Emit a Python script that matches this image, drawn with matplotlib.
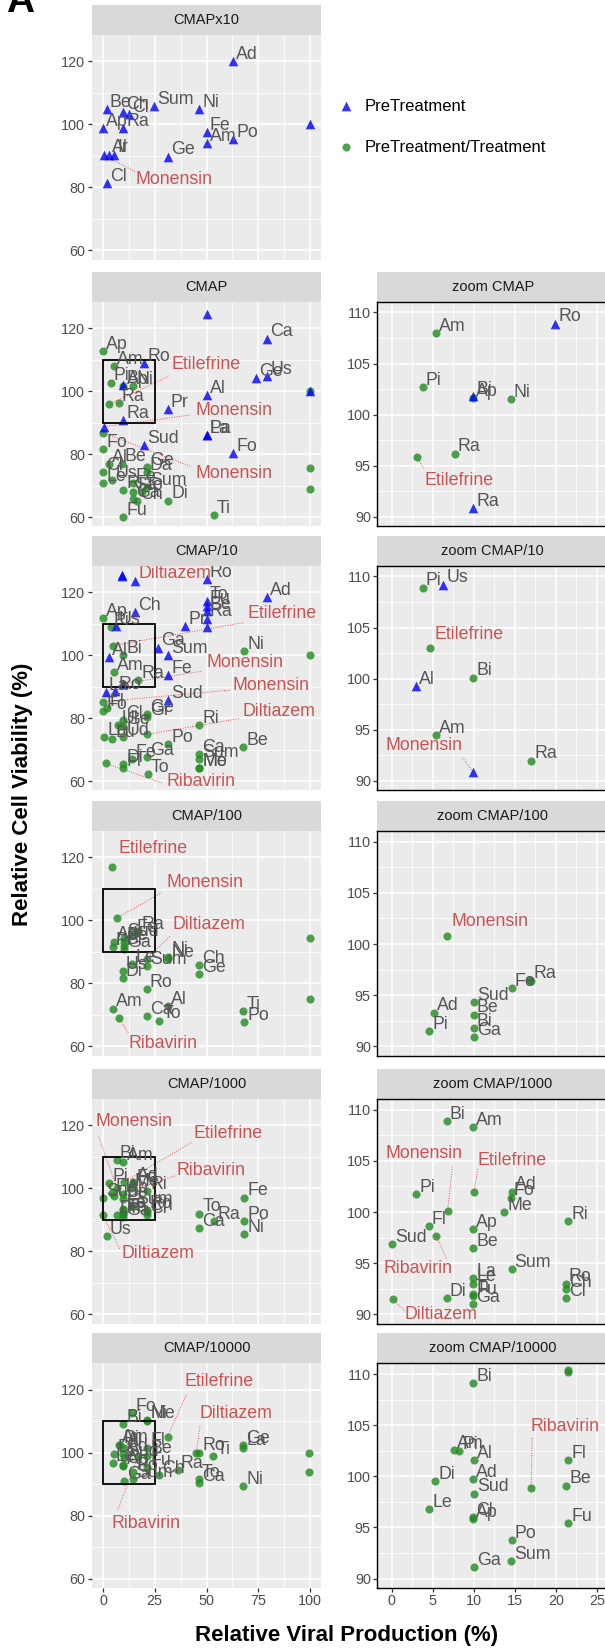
"""Viability vs viral production scatter panels, one row per CMAP dilution."""

import matplotlib
matplotlib.use("Agg")
import matplotlib.pyplot as plt
from matplotlib.patches import Rectangle

plt.rcParams["font.family"] = ["Liberation Sans", "DejaVu Sans"]

# (drug, relative viral production %, relative cell viability %)
cmapx10_pre = [
    ("Ad", 62.9, 120.0), ("Be", 1.8, 104.9), ("Ch", 9.8, 104.1), ("Cl", 12.4, 103.3),
    ("Sum", 24.8, 105.7), ("Ni", 46.5, 104.9), ("Ap", 0.0, 98.9), ("Ra", 9.8, 98.9),
    ("Fe", 50.1, 97.6), ("Am", 50.1, 94.1), ("Po", 62.9, 95.4), ("", 100.0, 100.0),
    ("Monensin", 0.5, 90.2), ("Al", 3.0, 90.4), ("Ir", 5.3, 90.4), ("Ge", 31.2, 89.8),
    ("Cl", 1.8, 81.4)]
cmapx10_trt = []

cmap_pre = [
    ("", 50.1, 124.4), ("Ca", 79.4, 116.7), ("Ro", 19.9, 108.9), ("Ge", 73.9, 104.1),
    ("Us", 79.4, 104.8), ("Bi", 9.9, 101.8), ("Al", 50.1, 98.7), ("", 100.0, 100.0),
    ("Pr", 31.3, 94.2), ("Ra", 9.9, 90.9), ("Monensin", 0.6, 88.7), ("Pa", 50.1, 86.0),
    ("La", 50.1, 86.1), ("Sud", 19.8, 82.8), ("Fo", 63.0, 80.2)]
cmap_trt = [
    ("Ap", 0.0, 112.7), ("Am", 5.4, 108.0), ("Pi", 3.8, 102.7), ("Ap", 9.9, 101.6),
    ("Ni", 14.5, 101.5), ("Etilefrine", 3.1, 95.9), ("Ra", 7.7, 96.2), ("", 100.0, 100.0),
    ("Monensin", 0.0, 86.8), ("Fo", 0.0, 81.5), ("Al", 3.0, 76.8), ("Be", 9.0, 77.0),
    ("Cl", 0.0, 74.4), ("Le", 0.0, 70.9), ("Us", 4.5, 71.7), ("Ri", 9.8, 68.6),
    ("Fe", 14.3, 70.9), ("Sa", 14.3, 68.0), ("Ga", 14.3, 65.6), ("Ch", 16.6, 65.1),
    ("Ge", 21.2, 75.8), ("Da", 21.2, 74.4), ("Sum", 21.2, 69.6), ("To", 18.7, 68.0),
    ("Di", 31.5, 65.2), ("Fu", 9.8, 59.9), ("", 100.0, 75.7), ("", 100.0, 68.9),
    ("Ti", 53.6, 60.5)]

cmap10_pre = [
    ("Diltiazem", 9.0, 125.1), ("", 9.2, 125.3), ("", 15.5, 123.5), ("Ro", 50.1, 124.1),
    ("To", 50.1, 117.2), ("Fu", 50.1, 115.7), ("Be", 50.1, 113.9), ("Ra", 50.1, 111.6),
    ("", 50.1, 109.0), ("Ad", 79.4, 118.5), ("Ch", 15.5, 113.6), ("Pr", 39.6, 109.3),
    ("Us", 6.3, 109.2), ("Ga", 26.5, 102.4), ("Sum", 31.6, 100.0), ("Al", 3.0, 99.3),
    ("Fe", 31.6, 93.7), ("Monensin", 9.9, 90.9), ("Ro", 5.8, 88.6), ("La", 1.4, 88.3),
    ("Sud", 31.6, 85.7)]
cmap10_trt = [
    ("Ap", 0.0, 111.8), ("Pi", 3.8, 108.9), ("Etilefrine", 4.7, 103.0), ("Bi", 9.9, 100.1),
    ("Am", 5.4, 94.5), ("Ra", 17.0, 92.0), ("Ni", 68.1, 101.2), ("", 100.0, 100.0),
    ("Monensin", 0.0, 85.2), ("Fl", 1.8, 83.1), ("Fo", 0.0, 82.1), ("Ge", 21.1, 81.3),
    ("Gr", 21.1, 80.4), ("Cl", 9.8, 79.4), ("Ul", 7.4, 77.8), ("Ge", 9.8, 77.5),
    ("Ri", 46.4, 77.8), ("Diltiazem", 21.1, 74.8), ("La", 0.5, 73.9), ("Lu", 4.5, 73.3),
    ("Ud", 9.8, 73.9), ("Po", 31.6, 71.7), ("Be", 67.8, 70.9), ("Ca", 46.4, 68.6),
    ("Sum", 46.4, 67.0), ("Me", 46.4, 64.0), ("Mo", 46.5, 64.1), ("Ga", 21.1, 67.7),
    ("Fe", 14.2, 66.9), ("Di", 9.8, 65.3), ("Fl", 9.8, 64.0), ("Ribavirin", 1.4, 65.6),
    ("To", 21.6, 62.2)]

cmap100_pre = []
cmap100_trt = [
    ("Etilefrine", 4.5, 117.1), ("Monensin", 6.7, 100.8), ("Fe", 14.6, 95.7),
    ("Ra", 16.9, 96.5), ("", 17.0, 96.4), ("Sud", 10.0, 94.3), ("Be", 10.0, 93.1),
    ("Bi", 10.0, 91.8), ("Ga", 10.0, 90.9), ("Ad", 5.2, 93.3), ("Pi", 4.6, 91.5),
    ("Ni", 31.6, 88.5), ("Ne", 31.6, 87.6), ("Diltiazem", 21.1, 87.7), ("Sum", 21.1, 85.5),
    ("Le", 14.2, 86.1), ("Us", 9.5, 83.8), ("Di", 9.5, 81.6), ("Ro", 21.1, 78.3),
    ("Ch", 46.4, 85.8), ("Ge", 46.4, 82.9), ("", 100.0, 94.5), ("Am", 5.0, 72.0),
    ("Ribavirin", 7.7, 69.1), ("Ca", 21.1, 69.6), ("Al", 31.6, 72.8), ("To", 27.2, 68.2),
    ("Ti", 67.8, 71.2), ("Po", 68.1, 67.8), ("", 100.0, 74.9)]

cmap1000_pre = []
cmap1000_trt = [
    ("Bi", 6.7, 108.9), ("Am", 9.9, 108.3), ("Monensin", 6.8, 100.1), ("Etilefrine", 10.0, 102.0),
    ("Pi", 3.0, 101.75), ("Ad", 14.7, 102.0), ("Fo", 14.5, 101.4), ("Me", 13.7, 100.0),
    ("Ap", 9.9, 98.3), ("Fl", 4.5, 98.6), ("Ribavirin", 5.4, 97.7), ("Sud", 0.0, 96.9),
    ("Be", 9.9, 96.5), ("Ri", 21.5, 99.1), ("Sum", 14.6, 94.4), ("La", 9.9, 93.5),
    ("Le", 9.9, 93.0), ("Ti", 9.9, 92.0), ("Fu", 9.9, 91.8), ("Ga", 9.9, 91.0),
    ("Di", 6.7, 91.6), ("Diltiazem", 0.1, 91.5), ("Ro", 21.2, 93.0), ("Ch", 21.2, 92.5),
    ("Cl", 21.2, 91.6), ("Us", 1.8, 84.9), ("Fe", 68.1, 97.1), ("Po", 68.1, 89.7),
    ("Ni", 68.1, 85.5), ("To", 46.5, 92.0), ("Ca", 46.4, 87.4), ("Ra", 53.8, 89.7)]

cmap10000_pre = []
cmap10000_trt = [
    ("Bi", 9.9, 109.1), ("Ni", 21.5, 110.2), ("Me", 21.5, 110.4), ("Fo", 14.2, 112.5),
    ("Am", 7.6, 102.6), ("Pi", 8.2, 102.5), ("Al", 10.0, 101.6), ("Ad", 9.9, 99.7),
    ("Sud", 10.0, 98.3), ("Cl", 9.9, 96.0), ("Ap", 9.9, 95.8), ("Di", 5.3, 99.5),
    ("Le", 4.6, 96.8), ("Ribavirin", 17.0, 98.9), ("Fl", 21.5, 101.6), ("Be", 21.3, 99.1),
    ("Fu", 21.5, 95.4), ("Po", 14.6, 93.8), ("Sum", 14.5, 91.7), ("Ga", 10.0, 91.1),
    ("Etilefrine", 31.2, 105.1), ("Diltiazem", 45.0, 99.8), ("Ro", 46.5, 100.0),
    ("Ti", 53.3, 99.0), ("Ge", 67.8, 102.5), ("La", 67.8, 101.6), ("Ni", 67.7, 89.5),
    ("To", 46.4, 91.6), ("Ca", 46.4, 90.4), ("Ra", 36.1, 94.5), ("Ch", 27.2, 92.9),
    ("", 99.5, 100.0), ("", 99.5, 94.0)]

HIGHLIGHT = {"Monensin", "Etilefrine", "Diltiazem", "Ribavirin"}

# red call-out text placement: series, drug, text x, text y, ha, va, segment end x, y
notes_x10 = [("pre", "Monensin", 15.5, 85.2, "left", "top", 15.5, 85.0)]
notes_cmap = [
    ("trt", "Etilefrine", 33.2, 105.6, "left", "bottom", 32.0, 104.8),
    ("pre", "Monensin", 44.9, 93.7, "left", "center", 42.0, 92.4),
    ("trt", "Monensin", 44.9, 73.9, "left", "center", 42.8, 76.0)]
notes_10 = [
    ("pre", "Diltiazem", 17.1, 125.9, "left", "center", None, None),
    ("trt", "Etilefrine", 70.0, 110.6, "left", "bottom", 67.8, 110.3),
    ("pre", "Monensin", 49.8, 95.0, "left", "bottom", 47.7, 94.9),
    ("trt", "Monensin", 62.6, 87.6, "left", "bottom", 61.4, 88.9),
    ("trt", "Diltiazem", 67.3, 79.4, "left", "bottom", 66.2, 79.9),
    ("trt", "Ribavirin", 30.8, 59.8, "left", "center", 29.1, 59.3)]
notes_100 = [
    ("trt", "Etilefrine", 7.4, 120.0, "left", "bottom", None, None),
    ("trt", "Monensin", 30.8, 109.3, "left", "bottom", 28.4, 108.8),
    ("trt", "Diltiazem", 33.7, 95.9, "left", "bottom", 32.4, 95.0),
    ("trt", "Ribavirin", 12.2, 63.7, "left", "top", 12.2, 64.3)]
notes_1000 = [
    ("trt", "Monensin", -3.5, 118.4, "left", "bottom", -2.3, 116.8),
    ("trt", "Etilefrine", 43.6, 114.7, "left", "bottom", 42.8, 114.6),
    ("trt", "Ribavirin", 35.6, 103.0, "left", "bottom", 34.8, 104.0),
    ("trt", "Diltiazem", 9.0, 82.0, "left", "top", 8.2, 80.7)]
notes_10000 = [
    ("trt", "Etilefrine", 39.6, 119.9, "left", "bottom", 40.4, 118.6),
    ("trt", "Diltiazem", 46.5, 109.6, "left", "bottom", 46.9, 108.6),
    ("trt", "Ribavirin", 3.9, 80.3, "left", "top", 6.9, 81.5)]

zoom_notes_cmap = [("trt", "Etilefrine", 4.0, 94.4, "left", "top", 3.9, 94.7)]
zoom_notes_10 = [
    ("trt", "Etilefrine", 5.2, 103.45, "left", "bottom", None, None),
    ("pre", "Monensin", 8.6, 92.6, "right", "bottom", 8.6, 92.3)]
zoom_notes_100 = [("trt", "Monensin", 7.3, 101.4, "left", "bottom", None, None)]
zoom_notes_1000 = [
    ("trt", "Monensin", 3.95, 104.9, "center", "bottom", 7.4, 104.5),
    ("trt", "Etilefrine", 10.5, 104.2, "left", "bottom", 10.5, 104.2),
    ("trt", "Ribavirin", -1.0, 95.3, "left", "top", 6.7, 95.4),
    ("trt", "Diltiazem", 1.6, 90.0, "left", "center", 1.6, 90.3)]
zoom_notes_10000 = [("trt", "Ribavirin", 16.9, 104.0, "left", "bottom", 17.1, 103.8)]

rows = [
    ("CMAPx10", cmapx10_pre, cmapx10_trt, notes_x10, None),
    ("CMAP", cmap_pre, cmap_trt, notes_cmap, zoom_notes_cmap),
    ("CMAP/10", cmap10_pre, cmap10_trt, notes_10, zoom_notes_10),
    ("CMAP/100", cmap100_pre, cmap100_trt, notes_100, zoom_notes_100),
    ("CMAP/1000", cmap1000_pre, cmap1000_trt, notes_1000, zoom_notes_1000),
    ("CMAP/10000", cmap10000_pre, cmap10000_trt, notes_10000, zoom_notes_10000),
]

W, H = 605, 1648
STRIP_TOPS = [5, 271.7, 535.7, 801, 1069, 1333.3]
STRIP_H = 30
PANEL_H = 224.5
LEFT_X, LEFT_W = 91.6, 229.8
RIGHT_X, RIGHT_W = 377.3, 231.0

BLUE = "#0000ff"
GREEN = "#228b22"
GREY = "#555555"
RED = "#cc5252"
SEG = "#ff4c4c"
LABEL_SIZE = 12.8

fig = plt.figure(figsize=(W / 100, H / 100), dpi=100)


def px_rect(x, top, w, h):
    return [x / W, 1 - (top + h) / H, w / W, h / H]


def add_strip(x, top, w, title):
    sa = fig.add_axes(px_rect(x, top, w, STRIP_H))
    sa.set_facecolor("#d9d9d9")
    sa.set_xticks([])
    sa.set_yticks([])
    for s in sa.spines.values():
        s.set_visible(False)
    sa.text(0.5, 0.5, title, ha="center", va="center", fontsize=10.5,
            color="#1a1a1a", transform=sa.transAxes)


def draw_panel(ax, pre, trt, notes, zoom, bottom, box):
    ax.set_facecolor("#ebebeb")
    if zoom:
        ax.set_xlim(-1.76, 26.4)
        ax.set_ylim(89.1, 111.05)
        ax.set_xticks([0, 5, 10, 15, 20, 25])
        ax.set_xticks([2.5, 7.5, 12.5, 17.5, 22.5], minor=True)
        ax.set_yticks([90, 95, 100, 105, 110])
        ax.set_yticks([92.5, 97.5, 102.5, 107.5], minor=True)
    else:
        ax.set_xlim(-5.5, 105.5)
        ax.set_ylim(57.1, 128.4)
        ax.set_xticks([0, 25, 50, 75, 100])
        ax.set_xticks([12.5, 37.5, 62.5, 87.5], minor=True)
        ax.set_yticks([60, 80, 100, 120])
        ax.set_yticks([70, 90, 110], minor=True)
    ax.grid(which="major", color="white", lw=1.1)
    ax.grid(which="minor", color="white", lw=0.55)
    ax.set_axisbelow(True)
    ax.tick_params(which="minor", length=0)
    ax.tick_params(which="major", length=3.2, width=0.9, color="#333333",
                   labelsize=10.4, labelcolor="#4d4d4d", pad=1.5)
    if not bottom:
        ax.tick_params(axis="x", which="both", length=0, labelbottom=False)
    for s in ax.spines.values():
        s.set_visible(zoom)
        s.set_color("black")
        s.set_linewidth(1.0)

    if trt:
        ax.scatter([p[1] for p in trt], [p[2] for p in trt], marker="o", s=34,
                   color=GREEN, alpha=0.8, lw=0, zorder=3)
    if pre:
        ax.scatter([p[1] for p in pre], [p[2] for p in pre], marker="^", s=48,
                   color=BLUE, alpha=0.8, lw=0, zorder=4)

    for name, x, y in trt + pre:
        if not name or name in HIGHLIGHT:
            continue
        # labels that would sit on the top border of a zoom panel are dropped
        if zoom and y > 109.8:
            continue
        ax.annotate(name, (x, y), xytext=(2.2, 1.6), textcoords="offset points",
                    ha="left", va="baseline", fontsize=LABEL_SIZE, color=GREY,
                    clip_on=True, zorder=5)

    series = {"pre": pre, "trt": trt}
    for kind, name, tx, ty, ha, va, sx, sy in notes or []:
        x, y = next((p[1], p[2]) for p in series[kind] if p[0] == name)
        if sx is not None:
            ax.plot([x, sx], [y, sy], ls=(0, (1, 1.5)), color=SEG, lw=0.7, zorder=2.5)
        ax.text(tx, ty, name, ha=ha, va=va, fontsize=LABEL_SIZE, color=RED,
                clip_on=True, zorder=5)

    if box:
        ax.add_patch(Rectangle((0, 90), 25, 20, fill=False, ec="black", lw=1.3, zorder=4.5))


for i, (title, pre, trt, notes, znotes) in enumerate(rows):
    top = STRIP_TOPS[i]
    last = i == len(rows) - 1
    add_strip(LEFT_X, top, LEFT_W, title)
    ax = fig.add_axes(px_rect(LEFT_X, top + STRIP_H, LEFT_W, PANEL_H))
    draw_panel(ax, pre, trt, notes, zoom=False, bottom=last, box=i > 0)
    if znotes is not None:
        add_strip(RIGHT_X, top, RIGHT_W, "zoom " + title)
        zx = fig.add_axes(px_rect(RIGHT_X, top + STRIP_H, RIGHT_W, PANEL_H))
        draw_panel(zx, pre, trt, znotes, zoom=True, bottom=last, box=False)

# figure-level text and legend in pixel coordinates
over = fig.add_axes([0, 0, 1, 1])
over.set_xlim(0, W)
over.set_ylim(H, 0)
over.axis("off")
over.patch.set_alpha(0)

over.text(6, 11.7, "A", ha="left", va="baseline", fontsize=28, fontweight="bold")
over.text(346.7, 1636, "Relative Viral Production (%)", ha="center", va="center",
          fontsize=16, fontweight="bold")
over.text(22.5, 794, "Relative Cell Viability (%)", ha="center", va="center",
          rotation=90, fontsize=16, fontweight="bold")

over.scatter([345.5], [106], marker="^", s=48, color=BLUE, alpha=0.8, lw=0)
over.text(365, 106, "PreTreatment", ha="left", va="center", fontsize=12)
over.scatter([345.5], [147], marker="o", s=34, color=GREEN, alpha=0.8, lw=0)
over.text(365, 147, "PreTreatment/Treatment", ha="left", va="center", fontsize=12)

fig.savefig("out.png", dpi=100)
